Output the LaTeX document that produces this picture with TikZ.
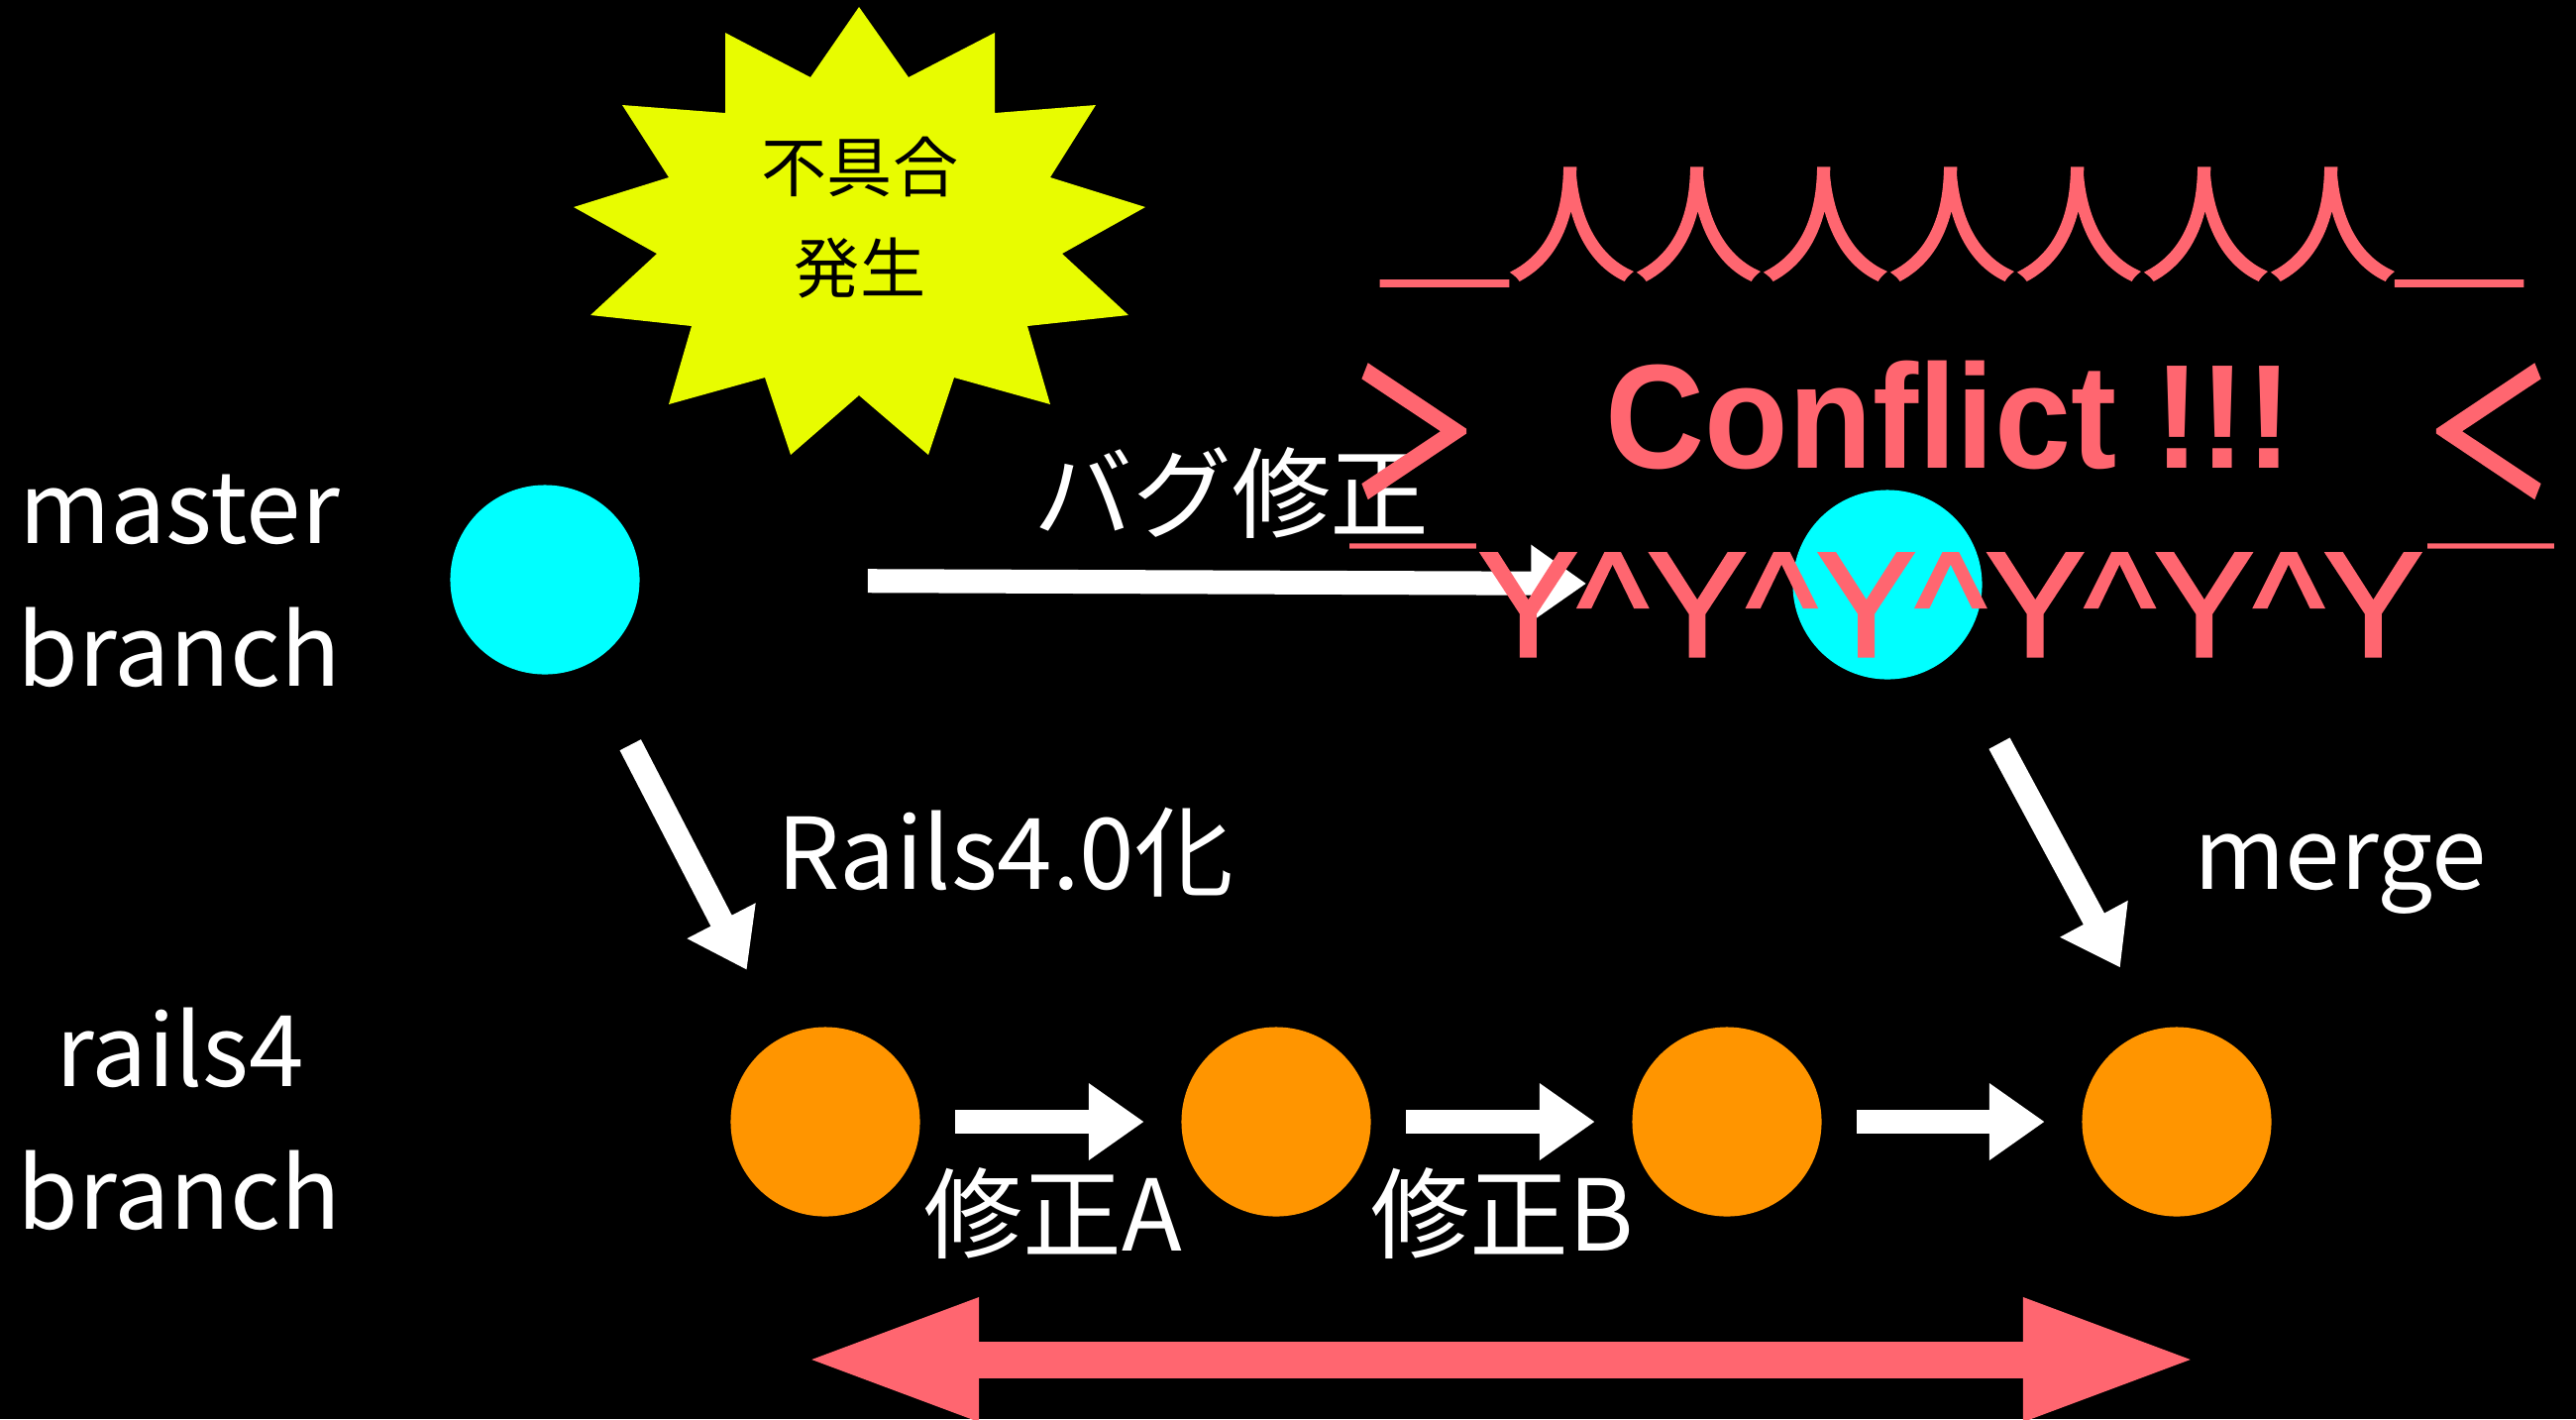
\documentclass[tikz,border=0pt]{standalone}
\usepackage{fontspec}
\setmainfont{Noto Sans CJK JP}
\newfontfamily\jpfont{Noto Sans CJK JP}
\newfontfamily\jpheavy[FakeBold=2]{Noto Sans CJK JP}
\newfontfamily\jpheavier[FakeBold=4]{Noto Sans CJK JP}
\newfontfamily\lsans{Liberation Sans}
\newfontfamily\lsansheavy[FakeBold=2]{Liberation Sans}
\usetikzlibrary{arrows.meta}
\definecolor{cyanc}{RGB}{0,255,255}
\definecolor{orangec}{RGB}{255,149,0}
\definecolor{yellowc}{RGB}{232,252,0}
\definecolor{redc}{RGB}{255,102,112}
\begin{document}
\begin{tikzpicture}[x=0.01cm,y=-0.01cm,
  commit/.style={circle, minimum size=1.91cm, inner sep=0pt},
  mcommit/.style={commit, fill=cyanc},
  rcommit/.style={commit, fill=orangec},
  lbl/.style={text=white, font=\jpfont\fontsize{28.4}{34}\selectfont, inner sep=0pt, anchor=base},
  burst/.style={text=black, font=\jpfont\fontsize{18.8}{22}\selectfont, inner sep=0pt, anchor=base},
  warrow/.style={draw=white, line width=6.83pt, line cap=butt, -{Triangle[length=15.9pt,width=21.05pt]}},
  rarrow/.style={draw=redc, line width=10.53pt, line cap=butt, {Triangle[length=50.1pt,width=32.4pt]}-{Triangle[length=50.1pt,width=32.4pt]}},
  aa/.style={text=redc, inner sep=0pt}
]
\fill[black] (0,0) rectangle (2600,1432);
\useasboundingbox (0,0) rectangle (2600,1432);

% starburst
\fill[yellowc] (867,7) -- (917,78) -- (1004,33) -- (1004,114) -- (1106,106) -- (1060,179)
  -- (1156,209) -- (1072,256) -- (1139,318) -- (1037,329) -- (1060,408) -- (963,381)
  -- (937,459) -- (867,399) -- (798,459) -- (772,381) -- (675,408) -- (698,329)
  -- (596,318) -- (663,256) -- (579,209) -- (675,179) -- (628,106) -- (732,114)
  -- (732,33) -- (818,78) -- cycle;
\node[burst] (bug1) at (868,193) {不具合};
\node[burst] (bug2) at (868,295) {発生};

% commits
\node[mcommit] (m1) at (550,585) {};
\node[mcommit] (m2) at (1905,590) {};
\node[rcommit] (o1) at (833,1132) {};
\node[rcommit] (o2) at (1288,1132) {};
\node[rcommit] (o3) at (1743,1132) {};
\node[rcommit] (o4) at (2197,1132) {};

% branch labels
\node[lbl] (lm1) at (181,548) {master};
\node[lbl] (lm2) at (181,692) {branch};
\node[lbl] (lr1) at (182,1096) {rails4};
\node[lbl] (lr2) at (181,1240) {branch};

% edge labels
\node[lbl] (lbug) at (1243,535) {バグ修正};
\node[lbl] (lrails) at (1015,897) {Rails4.0化};
\node[lbl] (lmerge) at (2362,897) {merge};
\node[lbl] (lfa) at (1063,1262) {修正A};
\node[lbl] (lfb) at (1516,1262) {修正B};

% connectors
\draw[warrow, shorten <=2.295cm, shorten >=2.075cm] (m1) -- (m2);
\draw[warrow, shorten <=0.914cm, shorten >=0.762cm] (m1) -- (o1);
\draw[warrow, shorten <=1.818cm, shorten >=1.766cm] ([xshift=0.267cm]m2.center) -- ([xshift=0.267cm]o4.center);
\draw[warrow, shorten <=0.35cm, shorten >=0.37cm] (o1) -- (o2);
\draw[warrow, shorten <=0.35cm, shorten >=0.37cm] (o2) -- (o3);
\draw[warrow, shorten <=0.35cm, shorten >=0.37cm] (o3) -- (o4);

% double arrow
\coordinate (dl) at (812,1372);
\coordinate (dr) at (2218,1372);
\draw[rarrow] (dl) -- (dr);

% conflict ascii art
\node[aa, anchor=north, font=\jpheavy\fontsize{36.4}{40}\selectfont] (aatop) at (1970,169) {＿人人人人人人人＿};
\node[aa, anchor=north, font=\jpheavier\fontsize{36.4}{40}\selectfont] (aagt) at (1427,370) {\scalebox{1}[1.3]{＞}};
\node[aa, anchor=base, font=\lsans\bfseries\fontsize{39.4}{44}\selectfont] (aaconf) at (1967,472) {\scalebox{1}[1.08]{Conflict !!!}};
\node[aa, anchor=north, font=\jpheavier\fontsize{36.4}{40}\selectfont] (aalt) at (2512,370) {\scalebox{1}[1.3]{＜}};
\node[aa, anchor=north, font=\jpfont\fontsize{36.4}{40}\selectfont] (aaol) at (1426,548) {￣};
\node[aa, anchor=base, font=\lsansheavy\fontsize{42.7}{48}\selectfont] (aay) at (1969,662) {Y\^{}Y\^{}Y\^{}Y\^{}Y\^{}Y};
\node[aa, anchor=north, font=\jpfont\fontsize{36.4}{40}\selectfont] (aaor) at (2514,548) {￣};
\end{tikzpicture}
\end{document}
